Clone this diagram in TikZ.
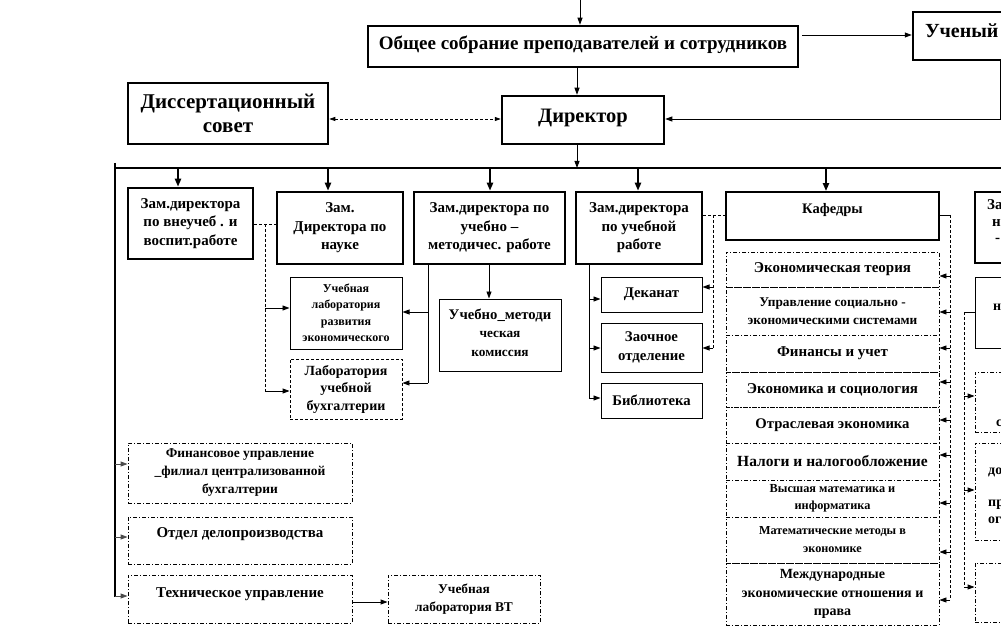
\documentclass[tikz,border=0pt]{standalone}
\usepackage{fontspec}
\setmainfont{Liberation Serif}
\usetikzlibrary{arrows.meta,calc}
\newcommand\myfs[2]{\fontsize{#1bp}{#2bp}\selectfont\bfseries}
\newcommand\bx[7]{\node[#6, minimum width={(#4-#2)*1bp}, minimum height={(#5-#3)*1bp}] (#1) at ({(#2+#4)/2},{(#3+#5)/2}) {#7};}
\tikzset{
 thickbox/.style={draw, line width=2.5bp, inner sep=0pt, align=center},
 medbox/.style={draw, line width=1.8bp, inner sep=0pt, align=center},
 thinbox/.style={draw, line width=1bp, inner sep=0pt, align=center},
 dashbox/.style={draw, line width=0.9bp, dash pattern=on 3bp off 2bp, inner sep=0pt, align=center},
 dotbox/.style={draw, line width=0.9bp, dash pattern=on 4bp off 2bp on 1bp off 2bp, inner sep=0pt, align=center},
 arr/.style={line width=0.9bp, -{Triangle[length=7bp,width=5bp]}},
 garr/.style={arr, draw=black!70, fill=black!70},
 barr/.style={line width=2bp, -{Triangle[length=8bp,width=6bp]}},
 dline/.style={line width=0.9bp, dash pattern=on 3bp off 2bp},
 ddarr/.style={dline, {Triangle[length=6bp,width=4bp]}-{Triangle[length=6bp,width=4bp]}},
 frag/.style={anchor=west, inner sep=0pt},
}
\begin{document}
\begin{tikzpicture}[x=1bp,y=-1bp]
\useasboundingbox (0,0) rectangle (1001,627);
\clip (0,0) rectangle (1001,627);
% top level
\bx{gen}{368}{26}{798}{67}{thickbox, font=\myfs{19}{20}, text depth=8bp}{Общее собрание преподавателей и сотрудников}
\bx{sci}{913}{12}{1100}{60}{thickbox, font=\myfs{20}{22}, text width=163bp, align=left, text depth=10bp}{Ученый совет}
\bx{dir}{502}{96}{664}{144}{thickbox, font=\myfs{20.5}{22}, text depth=9bp}{Директор}
\bx{dis}{128}{83}{328}{144}{thickbox, font=\myfs{21}{24}}{Диссертационный\\совет}
\coordinate (topin) at (580,0);
\draw[arr] (topin) -- (gen.north -| topin);
\draw[arr] ($(gen.east |- 0,35)+(3,0)$) -- (sci.west |- 0,35);
\draw[arr] (gen.south -| 577,0) -- (dir.north -| 577,0);
\draw[arr] (sci.south -| 1000,0) -- (1000,119) -- (dir.east |- 0,119);
\draw[ddarr] (dis.east |- 0,119) -- (dir.west |- 0,119);
% bus
\coordinate (busL) at (115,168);
\coordinate (busR) at (1001,168);
\draw[arr] (dir.south -| 577,0) -- (577,168);
\draw[line width=2bp] (busL) -- (busR);
\draw[line width=2.4bp] (115,163) -- (115,597);
% deputies
\bx{z1}{128}{188}{253}{259}{thickbox, font=\myfs{15}{18.5}}{Зам.директора\\по внеучеб . и\\воспит.работе}
\bx{z2}{277}{192}{403}{264}{thickbox, font=\myfs{15}{18.5}}{Зам.\\Директора по\\науке}
\bx{z3}{414}{192}{565}{264}{thickbox, font=\myfs{15}{18.5}}{Зам.директора по\\учебно –\\методичес. работе}
\bx{z4}{576}{192}{702}{264}{thickbox, font=\myfs{15}{18.5}}{Зам.директора\\по учебной\\работе}
\bx{kaf}{726}{192}{939}{240}{medbox, font=\myfs{14.5}{18}, text depth=15bp}{Кафедры}
\bx{ra}{975}{192}{1040}{263}{thickbox}{}
\draw[barr] (178,168) -- (z1.north -| 178,0);
\draw[barr] (328,168) -- (z2.north -| 328,0);
\draw[barr] (490,168) -- (z3.north -| 490,0);
\draw[barr] (638,168) -- (z4.north -| 638,0);
\draw[barr] (826,168) -- (kaf.north -| 826,0);
% science sub-units
\bx{lab1}{290}{277}{402}{349}{thinbox, font=\myfs{12}{16.5}}{Учебная\\лаборатория\\развития\\экономического}
\bx{lab2}{290}{359}{402}{419}{dashbox, font=\myfs{14}{17.5}}{Лаборатория\\учебной\\бухгалтерии}
\draw[dline] (z1.east |- 0,224) -- (z2.west |- 0,224);
\draw[dline] (265,224) -- (265,391);
\draw[arr] (265,308) -- (lab1.west |- 0,308);
\draw[arr] (265,391) -- (lab2.west |- 0,391);
\draw[line width=0.9bp] (z3.south -| 428,0) -- (428,383);
\draw[arr] (428,312) -- (lab1.east |- 0,312);
\draw[arr] (428,383) -- (lab2.east |- 0,383);
\bx{umk}{439}{299}{561}{371}{thinbox, font=\myfs{13.3}{18.5}, text depth=5bp}{{\myfs{14.7}{18.5}Учебно\_методи}\\ческая\\комиссия}
\draw[arr] (z3.south -| 489,0) -- (umk.north -| 489,0);
% study sub-units
\bx{dek}{601}{277}{702}{312}{thinbox, font=\myfs{14.8}{17}}{Деканат}
\bx{zao}{601}{323}{702}{372}{thinbox, font=\myfs{14.8}{19}}{Заочное\\отделение}
\bx{bib}{601}{383}{702}{418}{thinbox, font=\myfs{14.7}{17}}{Библиотека}
\draw[line width=0.9bp] (z4.south -| 589,0) -- (589,398);
\draw[arr] (589,299) -- (dek.west |- 0,299);
\draw[arr] (589,348) -- (zao.west |- 0,348);
\draw[arr] (589,398) -- (bib.west |- 0,398);
\draw[dline] (z4.east |- 0,215) -- (kaf.west |- 0,215);
\draw[dline] (713,215) -- (713,348);
\draw[arr] (713,287) -- (dek.east |- 0,287);
\draw[arr] (713,348) -- (zao.east |- 0,348);
% departments
\bx{k1}{726}{252}{939}{287}{dotbox, font=\myfs{15}{17}}{Экономическая теория}
\bx{k2}{726}{287}{939}{335}{dotbox, font=\myfs{13.3}{18.5}}{Управление социально -\\экономическими системами}
\bx{k3}{726}{335}{939}{372}{dotbox, font=\myfs{15}{17}}{Финансы и учет}
\bx{k4}{726}{372}{939}{407}{dotbox, font=\myfs{15}{17}}{Экономика и социология}
\bx{k5}{726}{407}{939}{443}{dotbox, font=\myfs{14.7}{17}}{Отраслевая экономика}
\bx{k6}{726}{443}{939}{480}{dotbox, font=\myfs{15.5}{17}}{Налоги и налогообложение}
\bx{k7}{726}{480}{939}{517}{dotbox, font=\myfs{12.3}{17}}{Высшая математика и\\информатика}
\bx{k8}{726}{517}{939}{563}{dotbox, font=\myfs{12.2}{18}}{Математические методы в\\экономике}
\bx{k9}{726}{563}{939}{625}{dotbox, font=\myfs{14}{18.5}}{Международные\\экономические отношения и\\права}
\draw[line width=0.9bp] (kaf.east |- 0,215) -- (950,215);
\draw[dline] (950,215) -- (950,600);
\draw[arr] (950,276) -- (k1.east |- 0,276);
\draw[arr] (950,312) -- (k2.east |- 0,312);
\draw[arr] (950,348) -- (k3.east |- 0,348);
\draw[arr] (950,382) -- (k4.east |- 0,382);
\draw[arr] (950,420) -- (k5.east |- 0,420);
\draw[arr] (950,455) -- (k6.east |- 0,455);
\draw[arr] (950,503) -- (k7.east |- 0,503);
\draw[arr] (950,552) -- (k8.east |- 0,552);
\draw[arr] (950,600) -- (k9.east |- 0,600);
% right column (cut off)
\bx{rb}{975}{277}{1040}{348}{thinbox}{}
\bx{rc}{975}{372}{1040}{432}{dotbox}{}
\bx{rd}{975}{443}{1040}{540}{dotbox}{}
\bx{re}{975}{563}{1040}{622}{dotbox}{}
\node[frag, font=\myfs{15}{18}] (ra1) at (987,205) {За};
\node[frag, font=\myfs{15}{18}] (ra2) at (992,223) {н};
\node[frag, font=\myfs{15}{18}] (ra3) at (995,240) {-};
\node[frag, font=\myfs{14}{18}] (rb1) at (993,307) {н};
\node[frag, font=\myfs{14}{18}] (rc1) at (996,423) {с};
\node[frag, font=\myfs{14}{18}] (rd1) at (988,472) {до};
\node[frag, font=\myfs{14}{18}] (rd2) at (988,505) {пр};
\node[frag, font=\myfs{14}{18}] (rd3) at (988,520) {ог};
\draw[line width=0.9bp] (rb.west |- 0,312) -- (964,312);
\draw[dline] (964,312) -- (964,587);
\draw[arr] (964,396) -- (rc.west |- 0,396);
\draw[arr] (964,490) -- (rd.west |- 0,490);
\draw[arr] (964,587) -- (re.west |- 0,587);
% lower left
\bx{fin}{128}{443}{352}{503}{dotbox, font=\myfs{13.5}{18}}{Финансовое управление\\\_филиал централизованной\\бухгалтерии}
\bx{otd}{128}{517}{352}{564}{dotbox, font=\myfs{15}{18}, text depth=16bp}{Отдел делопроизводства}
\bx{teh}{128}{575}{352}{623}{dotbox, font=\myfs{15}{18}, text depth=12bp}{Техническое управление}
\bx{vt}{388}{575}{540}{623}{dotbox, font=\myfs{13.4}{18}}{Учебная\\лаборатория ВТ}
\draw[garr] (115,464) -- (fin.west |- 0,464);
\draw[garr] (115,537) -- (otd.west |- 0,537);
\draw[garr] (115,596) -- (teh.west |- 0,596);
\draw[arr] (teh.east |- 0,602) -- (vt.west |- 0,602);
\end{tikzpicture}
\end{document}
